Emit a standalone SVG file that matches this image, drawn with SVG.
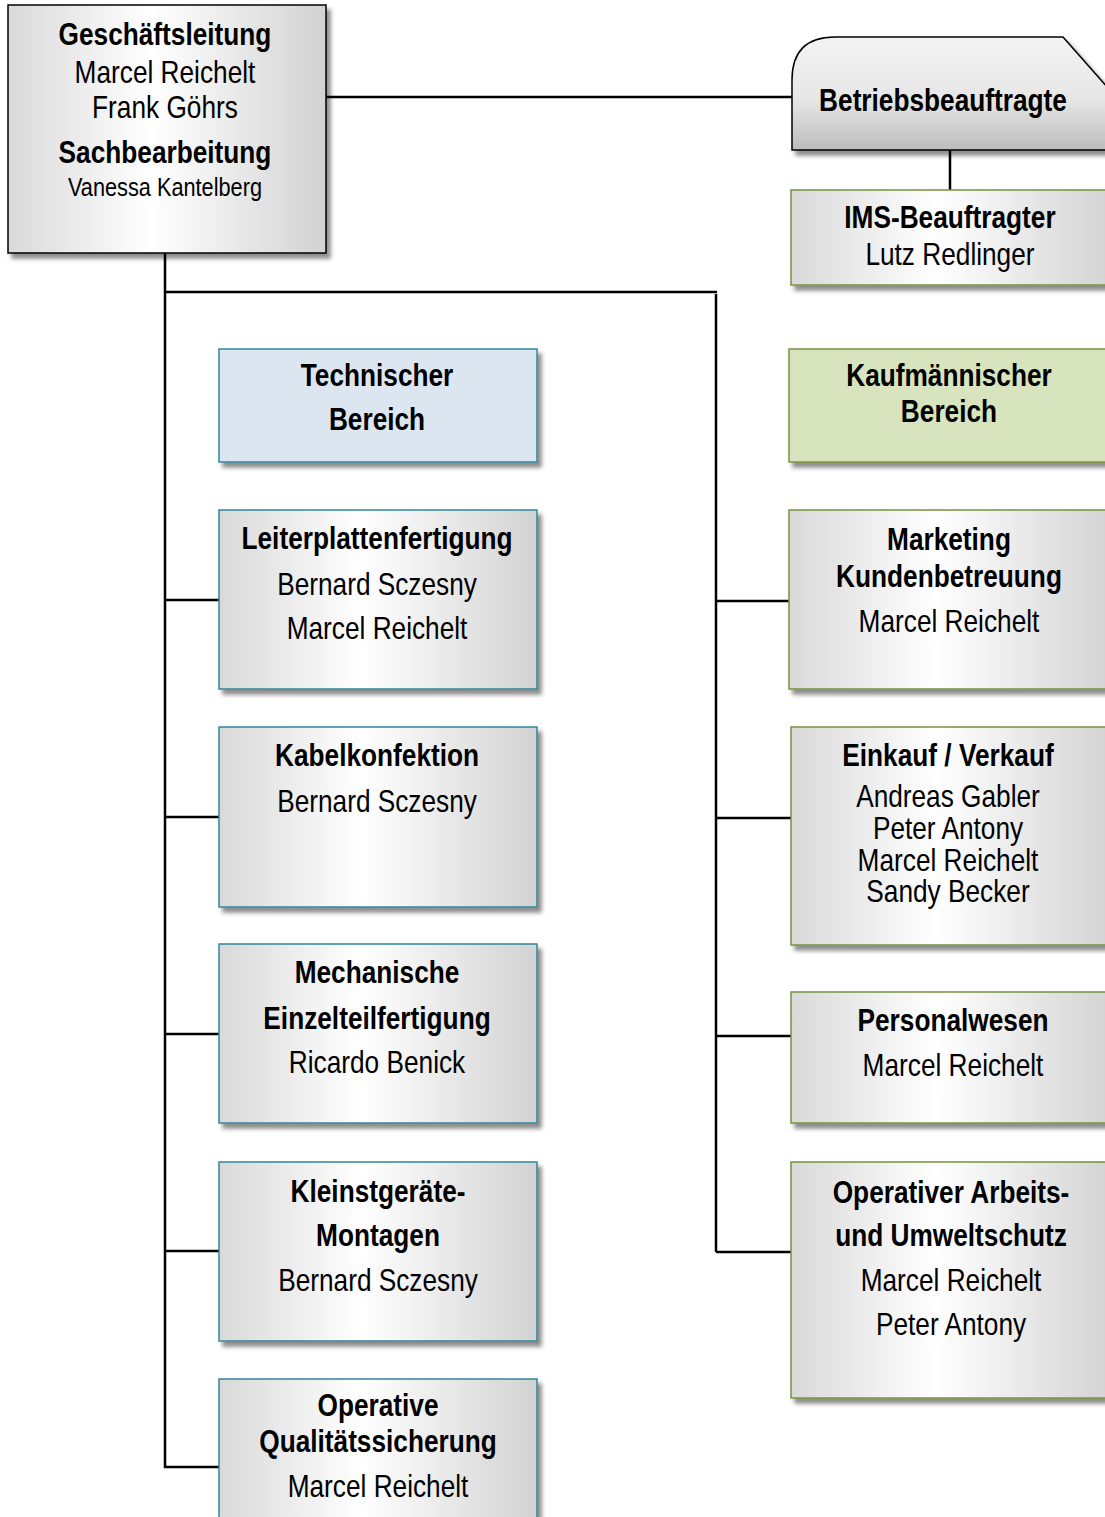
<svg xmlns="http://www.w3.org/2000/svg" width="1105" height="1517" viewBox="0 0 1105 1517">
<defs>
  <linearGradient id="gH" x1="0" y1="0" x2="1" y2="0">
    <stop offset="0" stop-color="#d9d9d9"/>
    <stop offset="0.45" stop-color="#ffffff"/>
    <stop offset="1" stop-color="#d2d2d2"/>
  </linearGradient>
  <linearGradient id="gV" x1="0" y1="0" x2="0" y2="1">
    <stop offset="0" stop-color="#f4f4f4"/>
    <stop offset="0.55" stop-color="#e6e6e6"/>
    <stop offset="1" stop-color="#bdbdbd"/>
  </linearGradient>
  <filter id="sh" x="-10%" y="-10%" width="125%" height="125%">
    <feDropShadow dx="4" dy="5" stdDeviation="2.2" flood-color="#000" flood-opacity="0.45"/>
  </filter>
</defs>
<style>
  .t { font-family: "Liberation Sans", Arial, sans-serif; font-size: 32px; fill: #000; text-anchor: middle; }
  .b { font-weight: bold; }
  .s { font-size: 26.5px; }
  .gray { fill: url(#gH); filter: url(#sh); }
  .blk { stroke: #000; stroke-width: 1.5; }
  .tea { stroke: #31859c; stroke-width: 1.5; }
  .grn { stroke: #77933c; stroke-width: 1.5; }
  .con { stroke: #000; stroke-width: 2.5; fill: none; }
</style>
<rect width="1105" height="1517" fill="#fff"/>

<g id="connectors">
  <line class="con" x1="326" y1="97" x2="792" y2="97"/>
  <line class="con" x1="950" y1="150" x2="950" y2="190"/>
  <polyline class="con" points="165,253 165,1467 219,1467"/>
  <polyline class="con" points="165,292 717,292"/>
  <line class="con" x1="716" y1="294" x2="716" y2="1252"/>
  <line class="con" x1="165" y1="600" x2="219" y2="600"/>
  <line class="con" x1="165" y1="817" x2="219" y2="817"/>
  <line class="con" x1="165" y1="1034" x2="219" y2="1034"/>
  <line class="con" x1="165" y1="1251" x2="219" y2="1251"/>
  <line class="con" x1="716" y1="601" x2="790" y2="601"/>
  <line class="con" x1="716" y1="818" x2="791" y2="818"/>
  <line class="con" x1="716" y1="1036" x2="791" y2="1036"/>
  <line class="con" x1="716" y1="1252" x2="791" y2="1252"/>
</g>

<g id="geschaeftsleitung">
  <rect class="gray blk" x="8" y="5" width="318" height="248"/>
  <g transform="scale(0.82 1)">
    <text class="t b" x="201.2" y="45">Geschäftsleitung</text>
    <text class="t" x="201.2" y="83">Marcel Reichelt</text>
    <text class="t" x="201.2" y="118">Frank Göhrs</text>
    <text class="t b" x="201.2" y="163">Sachbearbeitung</text>
    <text class="t s" x="201.2" y="196">Vanessa Kantelberg</text>
  </g>
</g>

<g id="betriebsbeauftragte">
  <path d="M792,150 L792,80 Q792,37 835,37 L1063,37 L1115,96 L1115,150 Z" fill="url(#gV)" stroke="#000" stroke-width="1.5" filter="url(#sh)"/>
  <g transform="scale(0.82 1)">
    <text class="t b" x="1150" y="111">Betriebsbeauftragte</text>
  </g>
</g>

<g id="ims">
  <rect class="gray grn" x="791" y="190" width="324" height="95"/>
  <g transform="scale(0.82 1)">
    <text class="t b" x="1158.5" y="228">IMS-Beauftragter</text>
    <text class="t" x="1158.5" y="265">Lutz Redlinger</text>
  </g>
</g>

<g id="technischer-bereich">
  <rect x="219" y="349" width="318" height="113" fill="#dce6f1" filter="url(#sh)" class="tea"/>
  <g transform="scale(0.82 1)">
    <text class="t b" x="459.8" y="386">Technischer</text>
    <text class="t b" x="459.8" y="430">Bereich</text>
  </g>
</g>

<g id="kaufmaennischer-bereich">
  <rect x="789" y="349" width="326" height="113" fill="#d7e4bd" filter="url(#sh)" class="grn"/>
  <g transform="scale(0.82 1)">
    <text class="t b" x="1157.3" y="386">Kaufmännischer</text>
    <text class="t b" x="1157.3" y="422">Bereich</text>
  </g>
</g>

<g id="leiterplattenfertigung">
  <rect class="gray tea" x="219" y="510" width="318" height="179"/>
  <g transform="scale(0.82 1)">
    <text class="t b" x="459.8" y="549">Leiterplattenfertigung</text>
    <text class="t" x="459.8" y="595">Bernard Sczesny</text>
    <text class="t" x="459.8" y="639">Marcel Reichelt</text>
  </g>
</g>

<g id="kabelkonfektion">
  <rect class="gray tea" x="219" y="727" width="318" height="180"/>
  <g transform="scale(0.82 1)">
    <text class="t b" x="459.8" y="766">Kabelkonfektion</text>
    <text class="t" x="459.8" y="812">Bernard Sczesny</text>
  </g>
</g>

<g id="mechanische-einzelteilfertigung">
  <rect class="gray tea" x="219" y="944" width="318" height="179"/>
  <g transform="scale(0.82 1)">
    <text class="t b" x="459.8" y="983">Mechanische</text>
    <text class="t b" x="459.8" y="1029">Einzelteilfertigung</text>
    <text class="t" x="459.8" y="1073">Ricardo Benick</text>
  </g>
</g>

<g id="kleinstgeraete-montagen">
  <rect class="gray tea" x="219" y="1162" width="318" height="179"/>
  <g transform="scale(0.82 1)">
    <text class="t b" x="461" y="1202">Kleinstgeräte-</text>
    <text class="t b" x="461" y="1246">Montagen</text>
    <text class="t" x="461" y="1291">Bernard Sczesny</text>
  </g>
</g>

<g id="operative-qualitaetssicherung">
  <rect class="gray tea" x="219" y="1379" width="318" height="160"/>
  <g transform="scale(0.82 1)">
    <text class="t b" x="461" y="1416">Operative</text>
    <text class="t b" x="461" y="1452">Qualitätssicherung</text>
    <text class="t" x="461" y="1497">Marcel Reichelt</text>
  </g>
</g>

<g id="marketing-kundenbetreuung">
  <rect class="gray grn" x="789" y="510" width="326" height="179"/>
  <g transform="scale(0.82 1)">
    <text class="t b" x="1157.3" y="550">Marketing</text>
    <text class="t b" x="1157.3" y="587">Kundenbetreuung</text>
    <text class="t" x="1157.3" y="632">Marcel Reichelt</text>
  </g>
</g>

<g id="einkauf-verkauf">
  <rect class="gray grn" x="791" y="727" width="324" height="218"/>
  <g transform="scale(0.82 1)">
    <text class="t b" x="1156.1" y="766">Einkauf / Verkauf</text>
    <text class="t" x="1156.1" y="807">Andreas Gabler</text>
    <text class="t" x="1156.1" y="839">Peter Antony</text>
    <text class="t" x="1156.1" y="871">Marcel Reichelt</text>
    <text class="t" x="1156.1" y="902">Sandy Becker</text>
  </g>
</g>

<g id="personalwesen">
  <rect class="gray grn" x="791" y="992" width="324" height="131"/>
  <g transform="scale(0.82 1)">
    <text class="t b" x="1162.2" y="1031">Personalwesen</text>
    <text class="t" x="1162.2" y="1076">Marcel Reichelt</text>
  </g>
</g>

<g id="operativer-arbeits-umweltschutz">
  <rect class="gray grn" x="791" y="1162" width="324" height="236"/>
  <g transform="scale(0.82 1)">
    <text class="t b" x="1159.8" y="1203">Operativer Arbeits-</text>
    <text class="t b" x="1159.8" y="1246">und Umweltschutz</text>
    <text class="t" x="1159.8" y="1291">Marcel Reichelt</text>
    <text class="t" x="1159.8" y="1335">Peter Antony</text>
  </g>
</g>
</svg>
